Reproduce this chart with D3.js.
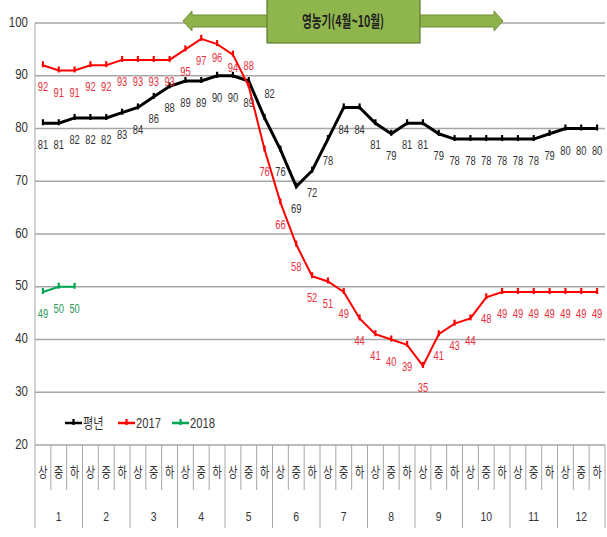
<!DOCTYPE html>
<html>
<head>
<meta charset="utf-8">
<script src="https://cdn.jsdelivr.net/npm/d3@7"></script>
<style>
body { margin:0; background:#fff; }
text { font-family: "Liberation Sans Narrow", "Liberation Sans", "Noto Sans CJK KR", sans-serif; }
.kr { font-family: "Noto Sans CJK KR", sans-serif; }
.grid line { stroke:#a6a6a6; stroke-width:1.6px; }
</style>
</head>
<body>
<div id="chart"></div>
<script>
// months and dekads (상/중/하순)
var months = ["1","2","3","4","5","6","7","8","9","10","11","12"];
var dekads = ["상","중","하"];
var yTicks = [20,30,40,50,60,70,80,90,100];

// 평년
var normal = [81,81,82, 82,82,83, 84,86,88, 89,89,90, 90,89,82, 76,69,72,
              78,84,84, 81,79,81, 81,79,78, 78,78,78, 78,78,79, 80,80,80];
// 2017
var y2017 = [92,91,91, 92,92,93, 93,93,93, 95,97,96, 94,88,76, 66,58,52,
             51,49,44, 41,40,39, 35,41,43, 44,48,49, 49,49,49, 49,49,49];
// 2018 (so far)
var y2018 = [49,50,50];

var series = [
  {name:"평년", values:normal, color:"#000", label:"#333", width:3},
  {name:"2017", values:y2017, color:"#ff0000", label:"#e8303c", width:2},
  {name:"2018", values:y2018, color:"#00a651", label:"#2e9b5b", width:2}
];

var W = 607, H = 537;
var svg = d3.select("#chart").append("svg").attr("width", W).attr("height", H);

var cats = d3.range(months.length * dekads.length);
var x = d3.scaleBand().domain(cats).range([35, 605]).padding(0);
var y = d3.scaleLinear().domain([20, 100]).range([445, 23]);
var cx = function(i){ return x(i) + x.bandwidth()/2; };

// squeezed text, like the narrow font of the original
function sq(px, py, sx) { return "translate(" + px + "," + py + ") scale(" + (sx || 0.8) + ",1)"; }

// gridlines
svg.append("g").attr("class","grid")
  .selectAll("line").data(yTicks).enter().append("line")
  .attr("x1", 35).attr("x2", 605)
  .attr("y1", function(d){ return y(d); }).attr("y2", function(d){ return y(d); });

// y axis
svg.append("g").selectAll("text").data(yTicks).enter().append("text")
  .attr("transform", function(d){ return sq(28, y(d), 0.82); })
  .attr("text-anchor","end").attr("dominant-baseline","middle")
  .attr("font-size",14).attr("fill","#333")
  .text(function(d){ return d; });
svg.append("line").attr("x1",35).attr("x2",35).attr("y1",23).attr("y2",528)
  .attr("stroke","#a6a6a6").attr("stroke-width",1);

// x axis: dekad separators + month separators
var xg = svg.append("g");
cats.forEach(function(i){
  if (i === 0) return;
  var isMonth = i % 3 === 0;
  xg.append("line").attr("x1", x(i)).attr("x2", x(i))
    .attr("y1", 445).attr("y2", isMonth ? 528 : 490)
    .attr("stroke","#a6a6a6").attr("stroke-width",1);
});
xg.append("line").attr("x1",605).attr("x2",605).attr("y1",445).attr("y2",528)
  .attr("stroke","#a6a6a6").attr("stroke-width",1);

xg.selectAll("text.dk").data(cats).enter().append("text")
  .attr("class","dk kr")
  .attr("transform", function(i){ return sq(cx(i), 473, 0.72); })
  .attr("text-anchor","middle").attr("dominant-baseline","middle")
  .attr("font-size",14).attr("fill","#333")
  .text(function(i){ return dekads[i % 3]; });

xg.selectAll("text.mo").data(months).enter().append("text")
  .attr("class","mo")
  .attr("transform", function(d,m){ return sq(cx(m*3 + 1), 518, 0.8); })
  .attr("text-anchor","middle").attr("dominant-baseline","middle")
  .attr("font-size",13).attr("fill","#333")
  .text(function(d){ return d; });

// lines
var line = d3.line().x(function(d,i){ return cx(i); }).y(function(d){ return y(d); });

// label offsets that differ from the usual "below the point"
function labelDy(k, i) {
  if (k === 1 && i === 13) return -19;
  if (k === 1 && i === 11) return 15;
  if (k === 1 && i === 12) return 14;
  if (k === 0 && i === 14) return -23;
  return 23;
}

series.forEach(function(s, k){
  var g = svg.append("g");
  g.append("path").datum(s.values).attr("d", line)
    .attr("fill","none").attr("stroke", s.color).attr("stroke-width", s.width)
    .attr("stroke-linejoin","miter");
  g.selectAll("line.mk").data(s.values).enter().append("line")
    .attr("x1", function(d,i){ return cx(i); }).attr("x2", function(d,i){ return cx(i); })
    .attr("y1", function(d){ return y(d) - 4; }).attr("y2", function(d){ return y(d) + 2; })
    .attr("stroke", s.color).attr("stroke-width", 2.2);
  g.selectAll("text").data(s.values).enter().append("text")
    .attr("transform", function(d,i){
      return sq(cx(i) + (k === 0 && i === 14 ? 5 : 0), y(d) + labelDy(k, i), 0.78);
    })
    .attr("text-anchor","middle").attr("dominant-baseline","middle")
    .attr("font-size",12).attr("fill", s.label)
    .text(function(d){ return d; });
});

// legend
var lg = svg.append("g").attr("transform","translate(65,423)");
var lx = [0, 53, 107];
series.forEach(function(s, k){
  var g = lg.append("g").attr("transform","translate(" + lx[k] + ",0)");
  g.append("line").attr("x1",0).attr("x2",17).attr("y1",0).attr("y2",0)
    .attr("stroke", s.color).attr("stroke-width", 2.5);
  g.append("line").attr("x1",8.5).attr("x2",8.5).attr("y1",-4).attr("y2",2)
    .attr("stroke", s.color).attr("stroke-width", 2.2);
  g.append("text").attr("transform", sq(18, 1, 0.8)).attr("dominant-baseline","middle")
    .attr("font-size",14).attr("fill","#333").text(s.name);
});

// 영농기 banner (double arrow + box)
var ban = svg.append("g");
var arrow = [[183,21],[192,11],[192,15],[494,15],[494,11],[503,21],[494,31],[494,27],[192,27],[192,31]];
ban.append("path").attr("d", d3.line()(arrow) + "Z")
  .attr("fill","#8db34a").attr("stroke","#6f8f35").attr("stroke-width",1);
ban.append("rect").attr("x",267).attr("y",-2).attr("width",153).attr("height",45)
  .attr("fill","#8fb54d").attr("stroke","#5f7d2c").attr("stroke-width",1.2);
ban.append("text").attr("class","kr")
  .attr("x",343).attr("y",23).attr("text-anchor","middle").attr("dominant-baseline","middle")
  .attr("font-size",16).attr("font-weight","bold").attr("fill","#222")
  .attr("textLength",82).attr("lengthAdjust","spacingAndGlyphs")
  .text("영농기(4월~10월)");
</script>
</body>
</html>
